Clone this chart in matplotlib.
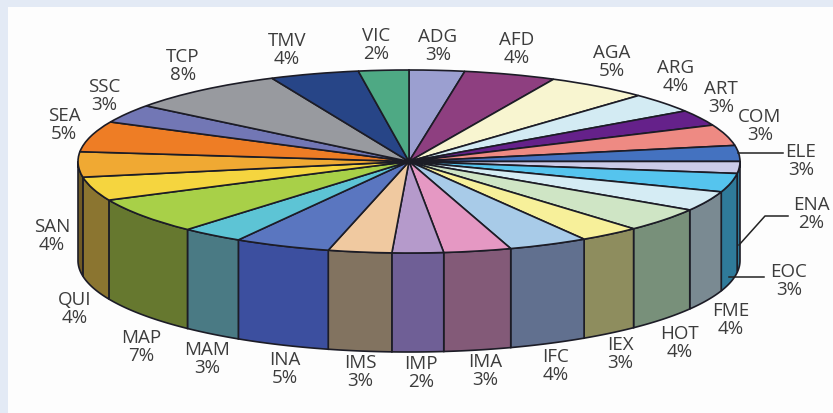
import matplotlib
matplotlib.use('Agg')
import matplotlib.pyplot as plt
from matplotlib.patches import Rectangle
from matplotlib.lines import Line2D
import numpy as np

W, H = 833, 414

# clockwise from 12 o'clock
names = ['ADG', 'AFD', 'AGA', 'ARG', 'ART', 'COM', 'ELE', 'ENA', 'EOC', 'FME', 'HOT', 'IEX', 'IFC',
         'IMA', 'IMP', 'IMS', 'INA', 'MAM', 'MAP', 'QUI', 'SAN', 'SEA', 'SSC', 'TCP', 'TMV', 'VIC']
percents = [3, 4, 5, 4, 3, 3, 3, 2, 3, 4, 4, 3, 4, 3, 2, 3, 5, 3, 7, 4, 4, 5, 3, 8, 4, 2]
# slice sizes as drawn, they differ a bit from the printed round numbers
shares = [2.7, 4.5, 5.0, 3.5, 2.8, 3.7, 2.8, 2.1, 3.3, 3.5, 4.25, 3.0, 3.9,
          3.3, 2.5, 3.1, 4.7, 3.05, 6.4, 4.2, 4.45, 5.4, 3.3, 7.8, 4.35, 2.45]
top_colors = ['#9b9fd0', '#8e3f80', '#f8f5d0', '#d3ebf3', '#65218a', '#ee8a83', '#4472c0', '#cbcbe8',
              '#55c4ee', '#d5ecf4', '#cfe5c5', '#f7f09a', '#a8cbe8', '#e598c3', '#b59acb', '#f0c9a0',
              '#5a76c0', '#5dc4d5', '#a8d048', '#f5d53f', '#f0a933', '#ee7d25', '#7277b5', '#989a9f',
              '#274587', '#4ea984']
wall_colors = {'ELE': '#2f5a9a', 'ENA': '#2f7a9a', 'EOC': '#2f7a9a', 'FME': '#7a8a92', 'HOT': '#78907a',
               'IEX': '#8e8d5e', 'IFC': '#61708f', 'IMA': '#835a78', 'IMP': '#6f5f96', 'IMS': '#827360',
               'INA': '#3c4f9f', 'MAM': '#4a7a84', 'MAP': '#66782f', 'QUI': '#8b7530', 'SAN': '#6f5a25'}

# label centres in picture pixels
label_xy = {'ADG': (438, 46), 'AFD': (517, 49), 'AGA': (612, 62), 'ARG': (676, 77), 'ART': (721, 98),
            'COM': (760, 126), 'ELE': (801, 161), 'ENA': (811, 214), 'EOC': (789, 281), 'FME': (731, 320),
            'HOT': (680, 343), 'IEX': (620, 354), 'IFC': (556, 366), 'IMA': (485, 371), 'IMP': (421, 373),
            'IMS': (360, 372), 'INA': (285, 369), 'MAM': (207, 359), 'MAP': (141, 347), 'QUI': (75, 309),
            'SAN': (52, 236), 'SEA': (64, 125), 'SSC': (104, 96), 'TCP': (183, 66), 'TMV': (287, 50),
            'VIC': (376, 45)}

# ellipse of the top face, pixels
cx, cy, rx, ry = 409, 162.5, 331, 91.5
depth = 99 / ry
edge = '#1c1c26'

fig = plt.figure(figsize=(W / 100, H / 100), dpi=100, facecolor='#e3eaf5')
fig.add_artist(Rectangle((8 / W, 0), 1 - 8 / W, 1 - 8 / H, transform=fig.transFigure,
                         facecolor='#fdfdfd', edgecolor='none', zorder=-1))
ax = fig.add_axes([0, 0, 1, 1])

# side wall, only the front half can be seen
angles = np.cumsum([0] + shares) / sum(shares) * 360
for i, name in enumerate(names):
    if name not in wall_colors:
        continue
    a0, a1 = max(angles[i], 90), min(angles[i + 1], 270)
    if a1 <= a0:
        continue
    t = np.radians(np.linspace(a0, a1, 40))
    x, y = np.sin(t), np.cos(t)
    ax.fill(np.r_[x, x[::-1]], np.r_[y, y[::-1] - depth], facecolor=wall_colors[name],
            edgecolor=edge, linewidth=1.2, zorder=1)

wedges, _ = ax.pie(shares, colors=top_colors, startangle=90, counterclock=False,
                   wedgeprops={'edgecolor': edge, 'linewidth': 1.2, 'zorder': 2})
ax.set_aspect('auto')
ax.set_xlim(-cx / rx, (W - cx) / rx)
ax.set_ylim((cy - H) / ry, cy / ry)
ax.patch.set_visible(False)

for name, pct in zip(names, percents):
    x, y = label_xy[name]
    fig.text(x / W, 1 - y / H, f'{name}\n{pct}%', ha='center', va='center', fontsize=13.5,
             family='Open Sans', color='#3c3c3c', linespacing=1.03)

# leader lines
for xs, ys in [([738, 783], [154, 154]), ([739, 765, 788], [246, 217, 217]), ([729, 764], [278, 278])]:
    fig.add_artist(Line2D(np.array(xs) / W, 1 - np.array(ys) / H, color='#222222', linewidth=1.1))

fig.savefig('out.png', dpi=100, facecolor=fig.get_facecolor())
